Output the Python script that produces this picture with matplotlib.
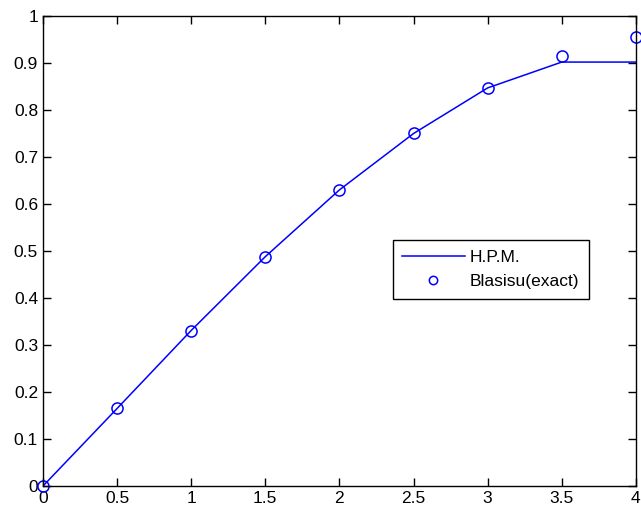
import matplotlib
matplotlib.use('Agg')
import matplotlib.pyplot as plt
from matplotlib.ticker import FuncFormatter

plt.rcParams['font.family'] = ['Liberation Sans', 'DejaVu Sans']

# H.P.M. solution
eta_hpm = [0, 0.5, 1.0, 1.5, 2.0, 2.5, 3.0, 3.5, 4.0]
f_hpm = [0, 0.165, 0.331, 0.488, 0.630, 0.750, 0.847, 0.902, 0.902]

# Blasius exact
eta_exact = [0, 0.5, 1.0, 1.5, 2.0, 2.5, 3.0, 3.5, 4.0]
f_exact = [0, 0.166, 0.330, 0.487, 0.630, 0.751, 0.847, 0.914, 0.955]

fig = plt.figure(figsize=(6.41, 5.16), dpi=100)
ax = fig.add_axes([0.067, 0.058, 0.925, 0.911])

ax.plot(eta_hpm, f_hpm, color='blue', lw=1.1, label='H.P.M.')
ax.plot(eta_exact, f_exact, 'o', mfc='none', mec='blue', ms=8, mew=1.1,
        label='Blasisu(exact)', clip_on=False)

ax.set_xlim(0, 4)
ax.set_ylim(0, 1)
ax.set_xticks([0, 0.5, 1, 1.5, 2, 2.5, 3, 3.5, 4])
ax.set_yticks([i / 10 for i in range(11)])
fmt = FuncFormatter(lambda v, p: ('%g' % round(v, 2)))
ax.xaxis.set_major_formatter(fmt)
ax.yaxis.set_major_formatter(fmt)
ax.tick_params(direction='in', top=True, right=True, labelsize=12.5, length=6, width=1)
for s in ax.spines.values():
    s.set_linewidth(1)

leg = ax.legend(loc='upper left', bbox_to_anchor=(0.575, 0.542), fancybox=False,
                edgecolor='black', fontsize=12.5, framealpha=1, borderpad=0.55,
                handlelength=3.6, handletextpad=0.3, labelspacing=0.55, markerscale=0.75)
leg.get_frame().set_linewidth(1)

fig.savefig('out.png', dpi=100)
